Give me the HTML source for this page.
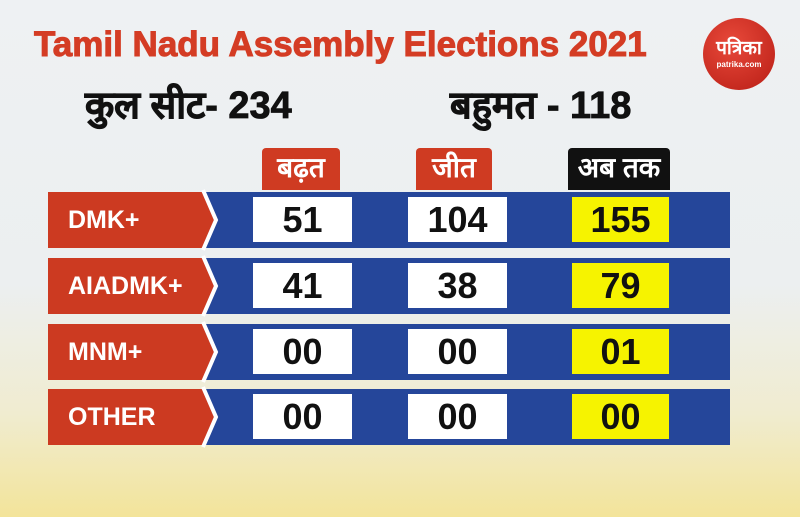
<!DOCTYPE html>
<html><head><meta charset="utf-8"><style>
body{margin:0;width:800px;height:517px;overflow:hidden;position:relative;font-family:"Liberation Sans","DejaVu Sans",sans-serif;
background:linear-gradient(180deg,#eef1f3 0%,#eceff0 55%,#f0ecd0 80%,#f3e49a 100%);}
.a{position:absolute}
.t{color:#d43c24;font-weight:bold;font-size:35px;left:34px;top:25px;letter-spacing:0px;white-space:nowrap;-webkit-text-stroke:1px #d43c24}
.s{font-weight:bold;font-size:38px;color:#111;top:78px;white-space:nowrap;-webkit-text-stroke:0.8px #111}
.h{color:#fff;font-weight:bold;font-size:28px;text-align:center;line-height:40px;border-radius:4px 4px 0 0;top:148px;height:42px}
.box{background:#fff;font-weight:bold;font-size:36px;text-align:center;color:#111;height:45px;line-height:45px}
.lab{color:#fff;font-weight:bold;font-size:25px;left:68px}
</style></head><body>
<div class="a t">Tamil Nadu Assembly Elections 2021</div>
<div class="a" style="left:703px;top:18px;width:72px;height:72px;border-radius:50%;background:radial-gradient(circle at 40% 35%,#e8493a,#b81d15);color:#fff;text-align:center;font-weight:bold">
<div style="font-size:19px;margin-top:16px">पत्रिका</div><div style="font-size:8px">patrika.com</div></div>
<div class="a s" style="left:85px">कुल सीट- 234</div>
<div class="a s" style="left:450px">बहुमत - 118</div>
<div class="a h" style="left:262px;width:78px;background:#cf3b22">बढ़त</div>
<div class="a h" style="left:416px;width:76px;background:#cf3b22">जीत</div>
<div class="a h" style="left:568px;width:102px;background:#111">अब तक</div>
<svg class="a" style="left:0;top:0" width="800" height="517">
<g id="r">
<rect x="205" y="192" width="525" height="56" fill="#25469a"/>
<polygon points="48,192 202,192 214,220 202,248 48,248" fill="#cc3a21"/>
<polyline points="203,190 216,220 203,250" fill="none" stroke="#fff" stroke-width="4"/>
</g>
<use href="#r" y="66"/><use href="#r" y="132"/><use href="#r" y="197"/>
</svg>
<div class="a lab" style="top:206px">DMK+</div>
<div class="a lab" style="top:272px">AIADMK+</div>
<div class="a lab" style="top:338px">MNM+</div>
<div class="a lab" style="top:403px">OTHER</div>
<div class="a box" style="left:253px;top:197px;width:99px">51</div>
<div class="a box" style="left:408px;top:197px;width:99px">104</div>
<div class="a box" style="left:572px;top:197px;width:97px;background:#f6f300">155</div>
<div class="a box" style="left:253px;top:263px;width:99px">41</div>
<div class="a box" style="left:408px;top:263px;width:99px">38</div>
<div class="a box" style="left:572px;top:263px;width:97px;background:#f6f300">79</div>
<div class="a box" style="left:253px;top:329px;width:99px">00</div>
<div class="a box" style="left:408px;top:329px;width:99px">00</div>
<div class="a box" style="left:572px;top:329px;width:97px;background:#f6f300">01</div>
<div class="a box" style="left:253px;top:394px;width:99px">00</div>
<div class="a box" style="left:408px;top:394px;width:99px">00</div>
<div class="a box" style="left:572px;top:394px;width:97px;background:#f6f300">00</div>
</body></html>
